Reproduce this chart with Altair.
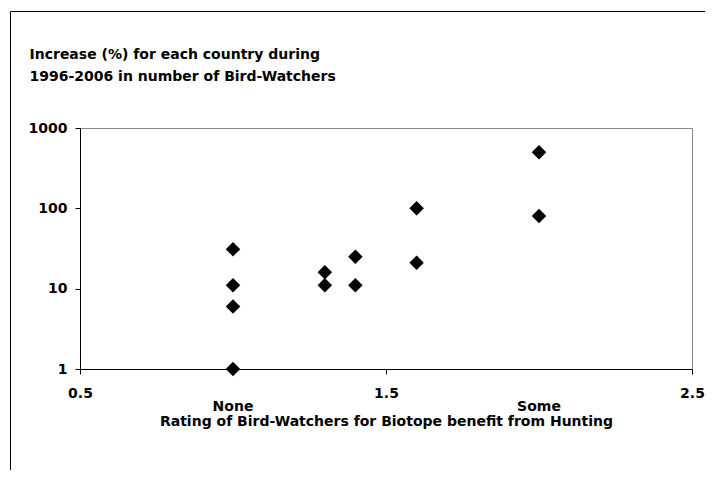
import altair as alt
import pandas as pd

# Data
rating = [1.0, 1.0, 1.0, 1.0, 1.3, 1.3, 1.4, 1.4, 1.6, 1.6, 2.0, 2.0]
increase = [31, 11, 6, 1, 16, 11, 25, 11, 100, 21, 500, 80]

cat_labels = ["None", "Some"]
cat_pos = [1.0, 2.0]

x_ticks = [0.5, 1.5, 2.5]
y_ticks = [1, 10, 100, 1000]

title_lines = ["Increase (%) for each country during",
               "1996-2006 in number of Bird-Watchers"]
x_title = "Rating of Bird-Watchers for Biotope benefit from Hunting"

df = pd.DataFrame({"rating": rating, "increase": increase})
cats = pd.DataFrame({"label": cat_labels, "pos": cat_pos})
one = pd.DataFrame({"k": [0]})

W, H = 612, 241
FONT = "DejaVu Sans"
FS = 14

x_scale = alt.Scale(domain=[0.5, 2.5], nice=False, zero=False)
y_scale = alt.Scale(type="log", domain=[1, 1000], nice=False)

points = alt.Chart(df).mark_point(
    shape="diamond", filled=True, color="black", size=210, opacity=1
).encode(
    x=alt.X("rating:Q", scale=x_scale,
            axis=alt.Axis(values=x_ticks, format=".1f", title=x_title,
                          titlePadding=14)),
    y=alt.Y("increase:Q", scale=y_scale,
            axis=alt.Axis(values=y_ticks, format="d", title=None)),
)

cat_text = alt.Chart(cats).mark_text(
    font=FONT, fontSize=FS, fontWeight="bold", color="black", baseline="middle"
).encode(
    x=alt.X("pos:Q", scale=x_scale),
    y=alt.value(H + 38),
    text="label:N",
)

title_text = alt.Chart(one).mark_text(
    text=title_lines, lineHeight=22, align="left", baseline="alphabetic",
    font=FONT, fontSize=FS, fontWeight="bold", color="black",
).encode(
    x=alt.value(-50.5), y=alt.value(-69)
)

frame_top = alt.Chart(one).mark_rule(color="black", strokeWidth=1).encode(
    x=alt.value(-69.5), x2=alt.value(W + 40), y=alt.value(-116.5)
)
frame_left = alt.Chart(one).mark_rule(color="black", strokeWidth=1).encode(
    x=alt.value(-69.5), y=alt.value(-116.5), y2=alt.value(H + 120)
)

chart = alt.layer(points, cat_text, title_text, frame_top, frame_left).properties(
    width=W,
    height=H,
    background="white",
    autosize=alt.AutoSizeParams(type="none"),
    padding={"left": 72, "top": 120, "right": 13, "bottom": 101},
).configure_view(
    stroke="#888888", strokeWidth=1
).configure_axis(
    labelFont=FONT, labelFontSize=FS, labelFontWeight="bold", labelColor="black",
    titleFont=FONT, titleFontSize=FS, titleFontWeight="bold", titleColor="black",
    domainColor="black", tickColor="black", tickSize=5, grid=False,
).configure_axisX(
    labelPadding=12, labelFlush=False,
).configure_axisY(
    labelPadding=8, labelFlush=False,
)

chart.save("out.html", embed_options={"renderer": "svg", "actions": False})
